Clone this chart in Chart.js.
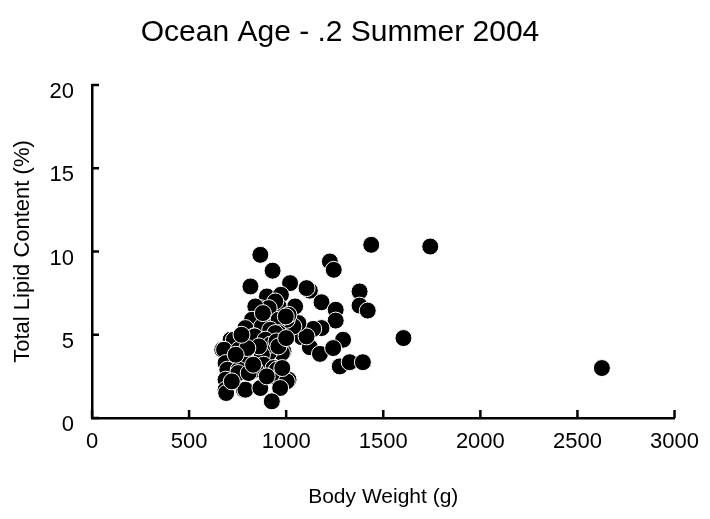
<!DOCTYPE html>
<html>
<head>
<meta charset="utf-8">
<script src="https://cdn.jsdelivr.net/npm/chart.js@4.4.1/dist/chart.umd.min.js"></script>
<style>
  html, body { margin: 0; padding: 0; background: #fff; }
  #wrap { width: 710px; height: 519px; position: relative; }
</style>
</head>
<body>
<div id="wrap"><canvas id="c" width="710" height="519"></canvas></div>
<script>
const chartTitle = 'Ocean Age - .2 Summer 2004';
const xTitle = 'Body Weight (g)';
const yTitle = 'Total Lipid Content (%)';
const xTicks = [0, 500, 1000, 1500, 2000, 2500, 3000];
const yTicks = [0, 5, 10, 15, 20];

// Body weight (g)
const bodyWeight = [
  1438, 1742, 1604, 2626,
  1225, 1245, 1122, 1378, 1378, 1420, 1182, 1255, 1255, 1182, 1139, 1293,
  1080, 1122, 1174, 1242, 1276, 1327, 1395, 1020, 1105, 1046, 1105, 1063, 1037,
  867, 930, 816, 901, 973, 961, 867, 841, 1003, 935, 944, 910, 841, 1012,
  961, 998, 824, 875, 790, 918, 961, 944, 833, 838, 893, 714, 731, 671,
  680, 756, 986, 978, 910, 918, 875, 790, 790, 688, 884, 697, 756, 841,
  935, 952, 753, 807, 952, 1012, 1003, 688, 688, 691, 782, 790, 867, 969,
  926, 860, 950, 800, 880, 960, 830, 900, 740, 980, 1000, 770, 720
];
// Total lipid content (%)
const lipid = [
  10.4, 10.3, 4.8, 3.0,
  9.4, 8.9, 7.65, 7.6, 6.75, 6.45, 6.95, 6.5, 5.85, 5.4, 5.35, 4.7,
  4.85, 4.25, 3.85, 4.2, 3.1, 3.35, 3.35, 8.1, 7.8, 6.7, 4.9, 5.7, 5.5,
  9.8, 8.85, 7.9, 7.3, 7.4, 6.7, 6.6, 6.0, 5.9, 5.5, 7.0, 6.6, 6.7, 6.2,
  5.9, 6.1, 5.9, 5.5, 5.4, 5.3, 5.1, 5.1, 4.9, 4.9, 4.7, 4.7, 4.7, 4.1,
  4.1, 4.1, 4.0, 3.9, 3.9, 4.4, 3.8, 3.6, 3.5, 3.3, 3.2, 2.9, 2.9, 2.9,
  3.0, 2.9, 2.7, 2.7, 2.4, 2.3, 2.2, 2.3, 1.7, 1.5, 1.7, 1.7, 1.8, 1.8,
  1.0, 4.3, 4.6, 4.2, 6.3, 4.3, 3.2, 2.5, 3.8, 3.0, 4.8, 5.0, 2.2
];

const points = bodyWeight.map((x, i) => ({ x: x, y: lipid[i] }));
const FONT = "'Liberation Sans', Arial, sans-serif";

const inwardTicks = {
  id: 'inwardTicks',
  afterDraw(chart) {
    const ctx = chart.ctx;
    const xs = chart.scales.x, ys = chart.scales.y;
    const bottom = chart.chartArea.bottom, left = chart.chartArea.left;
    ctx.save();
    ctx.strokeStyle = '#000';
    ctx.lineWidth = 2.5;
    ctx.lineCap = 'butt';
    xTicks.forEach(v => {
      const px = xs.getPixelForValue(v);
      ctx.beginPath(); ctx.moveTo(px, bottom); ctx.lineTo(px, bottom - 8); ctx.stroke();
    });
    yTicks.forEach(v => {
      const py = ys.getPixelForValue(v);
      ctx.beginPath(); ctx.moveTo(left, py); ctx.lineTo(left + 7, py); ctx.stroke();
    });
    ctx.restore();
  }
};

new Chart(document.getElementById('c'), {
  type: 'scatter',
  data: {
    datasets: [{
      data: points,
      backgroundColor: '#000',
      borderColor: '#fff',
      borderWidth: 1,
      pointRadius: 8.5,
      pointHoverRadius: 8.5
    }]
  },
  options: {
    responsive: false,
    animation: false,
    layout: { padding: { left: 0, right: 30, top: 0, bottom: 0 } },
    plugins: {
      legend: { display: false },
      tooltip: { enabled: false },
      title: {
        display: true,
        text: chartTitle,
        color: '#000',
        font: { family: FONT, size: 30, weight: 'normal' },
        padding: { top: 15, bottom: 34 }
      }
    },
    scales: {
      x: {
        type: 'linear',
        min: 0, max: 3000,
        afterFit(s) { s.height = 101; },
        afterBuildTicks(s) { s.ticks = xTicks.map(v => ({ value: v })); },
        grid: { display: false, drawTicks: false },
        border: { display: true, color: '#000', width: 2.5 },
        ticks: { color: '#000', padding: 11, maxRotation: 0, font: { family: FONT, size: 22 },
                 callback: v => String(v) },
        title: { display: true, text: xTitle, color: '#000', padding: 9, font: { family: FONT, size: 21 } }
      },
      y: {
        type: 'linear',
        min: 0, max: 20,
        afterFit(s) { s.width = 92; },
        afterBuildTicks(s) { s.ticks = yTicks.map(v => ({ value: v })); },
        grid: { display: false, drawTicks: false },
        border: { display: true, color: '#000', width: 2.5 },
        ticks: { color: '#000', padding: 18, labelOffset: 7, font: { family: FONT, size: 22 },
                 callback: v => String(v) },
        title: { display: true, text: yTitle, color: '#000', padding: 10, font: { family: FONT, size: 22 } }
      }
    }
  },
  plugins: [inwardTicks]
});
</script>
</body>
</html>
